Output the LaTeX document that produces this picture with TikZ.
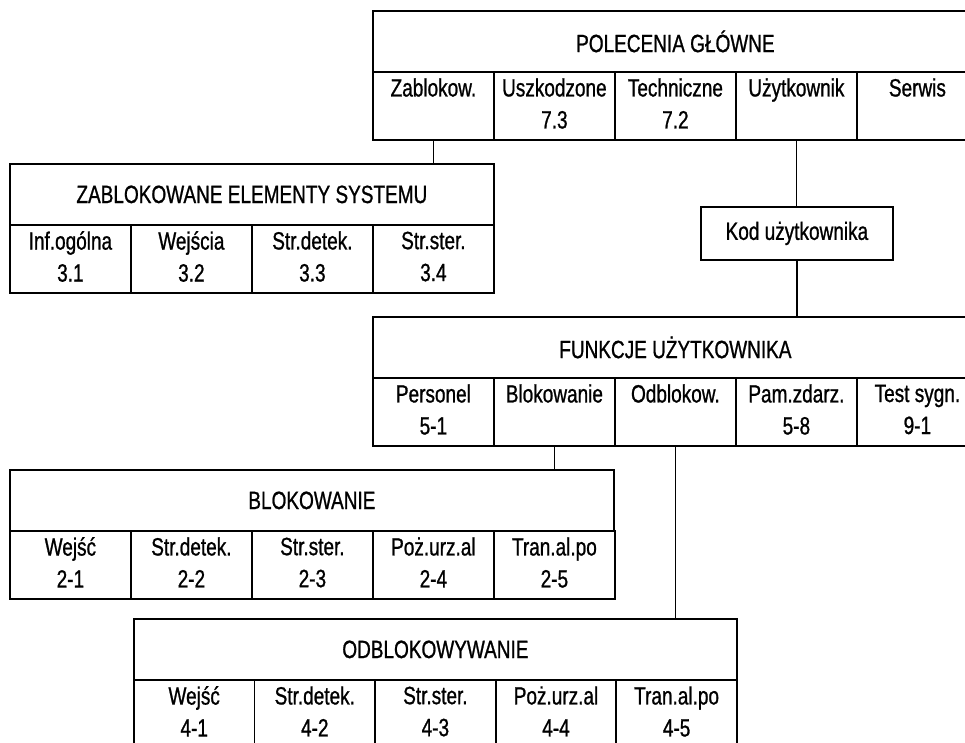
\documentclass[tikz,border=0pt]{standalone}
\usepackage{fontspec}
\setmainfont{Liberation Sans}[FakeStretch=0.76,FakeBold=0.9]
\begin{document}
\begin{tikzpicture}[x=1pt,y=-1pt,line width=1.8pt,
  txt/.style={font=\fontsize{25}{32}\selectfont},
  hdr/.style={draw,rectangle,inner sep=0pt,anchor=north west,minimum height=61pt,txt},
  cell/.style={draw,rectangle,inner sep=0pt,anchor=north west,minimum width=121pt,minimum height=68pt,align=center,text depth=5pt,txt},
  lnk/.style={draw,line width=1.8pt}]
\useasboundingbox (0,0) rectangle (965,742);
\clip (0,0) rectangle (965,742);
% POLECENIA GLOWNE
\node[hdr,minimum width=605pt] (pg) at (372,10) {POLECENIA GŁÓWNE};
\node[cell] (pg1) at (372,71) {Zablokow.\\\mbox{}};
\node[cell] (pg2) at (493,71) {Uszkodzone\\7.3};
\node[cell] (pg3) at (614,71) {Techniczne\\7.2};
\node[cell] (pg4) at (735,71) {Użytkownik\\\mbox{}};
\node[cell] (pg5) at (856,71) {Serwis\\\mbox{}};
% ZABLOKOWANE ELEMENTY SYSTEMU
\node[hdr,minimum width=484pt] (ze) at (9,163) {ZABLOKOWANE ELEMENTY SYSTEMU};
\node[cell] (ze1) at (9,224) {Inf.ogólna\\3.1};
\node[cell] (ze2) at (130,224) {Wejścia\\3.2};
\node[cell] (ze3) at (251,224) {Str.detek.\\3.3};
\node[cell] (ze4) at (372,224) {Str.ster.\\3.4};
% Kod uzytkownika
\node[draw,rectangle,inner sep=0pt,anchor=north west,minimum width=192pt,minimum height=53pt,txt] (kod) at (700,206) {Kod użytkownika};
% FUNKCJE UZYTKOWNIKA
\node[hdr,minimum width=605pt] (fu) at (372,316) {FUNKCJE UŻYTKOWNIKA};
\node[cell] (fu1) at (372,377) {Personel\\5-1};
\node[cell] (fu2) at (493,377) {Blokowanie\\\mbox{}};
\node[cell] (fu3) at (614,377) {Odblokow.\\\mbox{}};
\node[cell] (fu4) at (735,377) {Pam.zdarz.\\5-8};
\node[cell] (fu5) at (856,377) {Test sygn.\\9-1};
% BLOKOWANIE
\node[hdr,minimum width=604pt] (bl) at (9,469) {BLOKOWANIE};
\node[cell] (bl1) at (9,530) {Wejść\\2-1};
\node[cell] (bl2) at (130,530) {Str.detek.\\2-2};
\node[cell] (bl3) at (251,530) {Str.ster.\\2-3};
\node[cell] (bl4) at (372,530) {Poż.urz.al\\2-4};
\node[cell] (bl5) at (493,530) {Tran.al.po\\2-5};
% ODBLOKOWYWANIE
\node[hdr,minimum width=603pt] (od) at (133,618) {ODBLOKOWYWANIE};
\node[cell,minimum width=120.6pt] (od1) at (133,679) {Wejść\\4-1};
\node[cell,minimum width=120.6pt] (od2) at (253.6,679) {Str.detek.\\4-2};
\node[cell,minimum width=120.6pt] (od3) at (374.2,679) {Str.ster.\\4-3};
\node[cell,minimum width=120.6pt] (od4) at (494.8,679) {Poż.urz.al\\4-4};
\node[cell,minimum width=120.6pt] (od5) at (615.4,679) {Tran.al.po\\4-5};
% connectors
\draw[lnk] (pg1.south) -- (pg1.south |- ze.north);
\draw[lnk] (pg4.south) -- (pg4.south |- kod.north);
\draw[lnk] (kod.south) -- (kod.south |- fu.north);
\draw[lnk] (fu2.south) -- (fu2.south |- bl.north);
\draw[lnk] (fu3.south) -- (fu3.south |- od.north);
\end{tikzpicture}
\end{document}
